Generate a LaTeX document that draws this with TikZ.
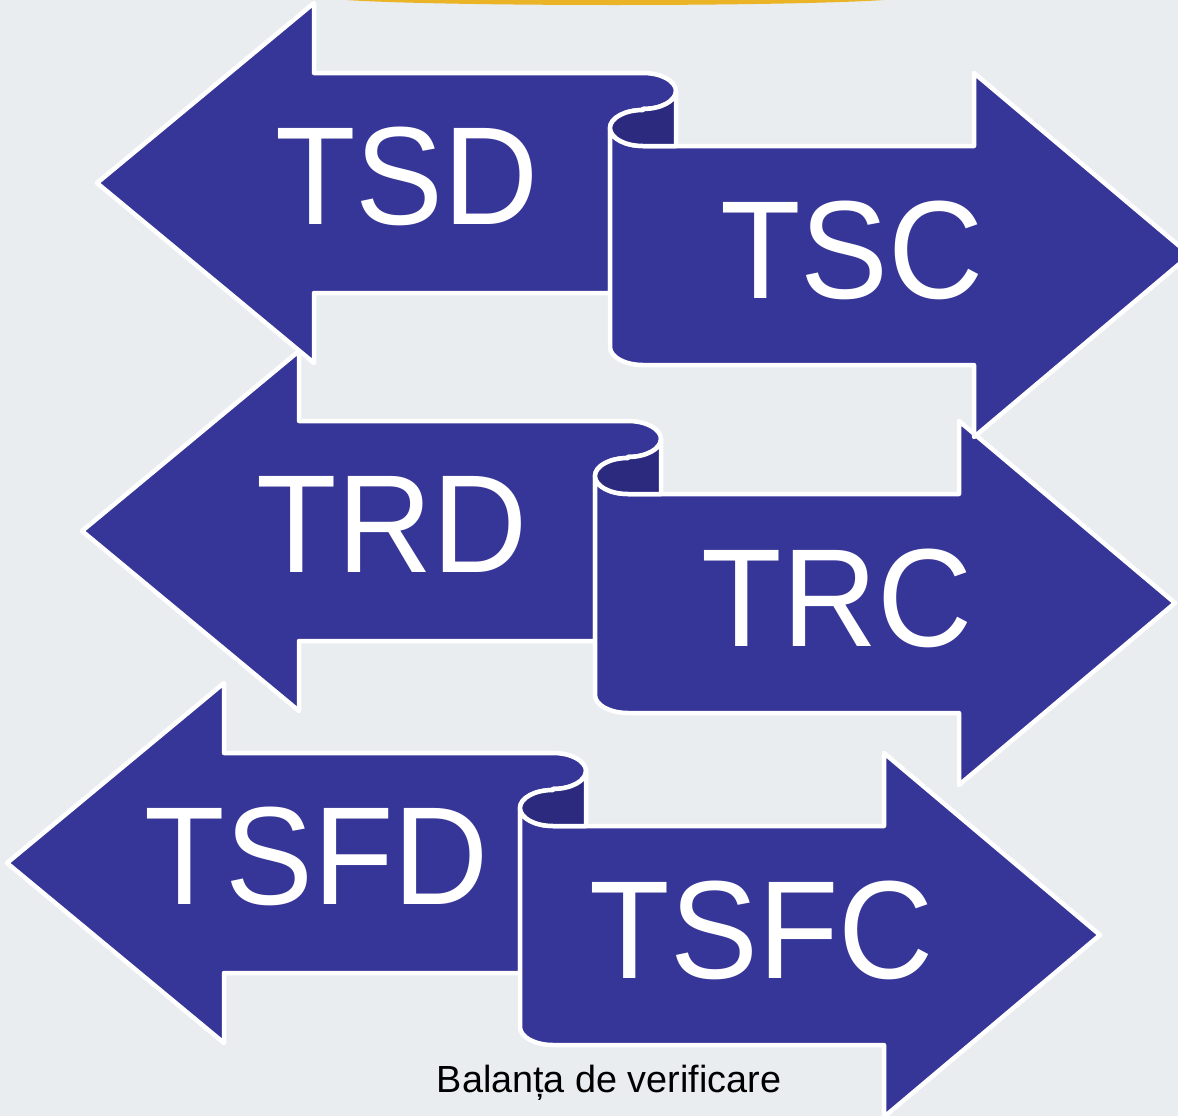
\documentclass[tikz,border=0pt]{standalone}
\usepackage{fontspec}
\setmainfont{Liberation Sans}
\usepackage{tikz}
\usetikzlibrary{positioning}
\definecolor{slideBg}{RGB}{233,237,240}
\definecolor{arrowBlue}{RGB}{54,53,152}
\definecolor{rollBlue}{RGB}{43,42,126}
\definecolor{glowYellow}{RGB}{234,180,38}
\tikzstyle{arrowShape}=[fill=arrowBlue, draw=white, line width=0.09cm, line join=round]
\tikzstyle{rollShape}=[fill=rollBlue, draw=white, line width=0.09cm, line join=round]
\tikzstyle{arrowLabel}=[text=white, inner sep=0pt, font=\fontsize{75}{80}\selectfont]
\tikzstyle{captionLabel}=[inner sep=0pt, anchor=base, font=\fontsize{21.5}{25}\selectfont]
\newcommand\drawPair{}
\def\drawPair(#1,#2)#3#4#5#6{%
  \begin{scope}[shift={(#1,#2)}]
    % left arrow, its end rolled up
    \path[arrowShape] (33,0) -- (-296,0) -- (-296,-70) -- (-513,110)
      -- (-296,290) -- (-296,220) -- (0,220) -- (0,55)
      arc[start angle=180, end angle=270, x radius=33, y radius=18]
      -- (33,36) arc[start angle=90, end angle=-90, x radius=33, y radius=18]
      -- cycle;
    % right arrow
    \path[arrowShape] (33,73) -- (364,73) -- (364,0) -- (580,182)
      -- (364,364) -- (364,292) -- (33,292)
      arc[start angle=90, end angle=180, x radius=33, y radius=18]
      -- (0,55) arc[start angle=180, end angle=90, x radius=33, y radius=18]
      -- cycle;
    % inside of the roll
    \path[rollShape] (33,36)
      arc[start angle=90, end angle=0, x radius=33, y radius=18]
      -- (66,73) -- (33,73)
      arc[start angle=90, end angle=270, x radius=33, y radius=18]
      -- cycle;
    \node[arrowLabel] (#3) at (-203,103) {\scalebox{1}[1.06]{#5}};
    \node[arrowLabel] (#4) at (242,177) {\scalebox{1}[1.06]{#6}};
  \end{scope}
}

\begin{document}
\begin{tikzpicture}[x=0.02cm, y=-0.02cm]
  \useasboundingbox (0,0) rectangle (1178,1116);
  \clip (0,0) rectangle (1178,1116);
  \fill[slideBg] (0,0) rectangle (1178,1116);
  \fill[glowYellow] (615,-3) ellipse[x radius=290, y radius=8];
  \drawPair(520,753){tsfd}{tsfc}{TSFD}{TSFC}
  \drawPair(595,421){trd}{trc}{TRD}{TRC}
  \drawPair(610,73){tsd}{tsc}{TSD}{TSC}
  \node[captionLabel] (caption) at (609,1092) {Balanța de verificare};
\end{tikzpicture}
\end{document}
